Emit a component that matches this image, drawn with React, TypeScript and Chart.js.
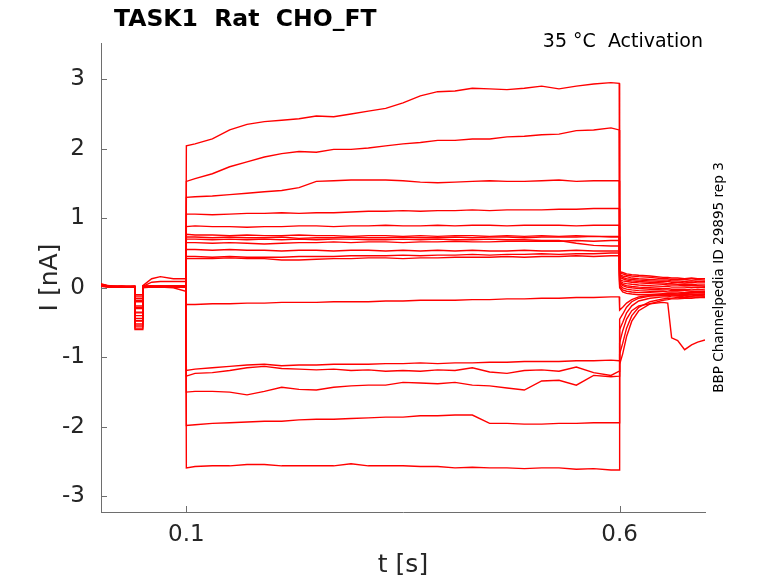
import React, { useEffect, useRef } from "react";
import { Chart, registerables } from "chart.js";

Chart.register(...registerables);

const titleText = "TASK1  Rat  CHO_FT";
const conditionText = "35 °C  Activation";
const sideText = "BBP Channelpedia ID 29895 rep 3";
const xAxisTitle = "t [s]";
const yAxisTitle = "I [nA]";

const xTickValues = [0.1, 0.6];
const xTickLabels = ["0.1", "0.6"];
const yTickValues = [-3, -2, -1, 0, 1, 2, 3];
const yTickLabels = ["-3", "-2", "-1", "0", "1", "2", "3"];

const preTimes = [0.0015, 0.012, 0.025, 0.0404, 0.0407, 0.0495, 0.0498, 0.06, 0.07, 0.085, 0.0995];
const stepTimes = [
  0.1, 0.11, 0.13, 0.15, 0.17, 0.19, 0.21, 0.23, 0.25, 0.27, 0.29, 0.31, 0.33, 0.35,
  0.37, 0.39, 0.41, 0.43, 0.45, 0.47, 0.49, 0.51, 0.53, 0.55, 0.57, 0.59, 0.5995,
];
const tailTimes = [0.6, 0.6035, 0.608, 0.614, 0.622, 0.635, 0.65, 0.6555, 0.66, 0.667, 0.675, 0.683, 0.69, 0.6985];

// one row per sweep
const preValues = [
  [0.04, 0.03, 0.02, 0.02, -0.58, -0.58, 0.03, 0.13, 0.16, 0.13, 0.13],
  [0.05, 0.02, 0.02, 0.01, -0.52, -0.52, 0.02, 0.08, 0.09, 0.09, 0.09],
  [0.03, 0.02, 0.01, 0.02, -0.47, -0.47, 0.02, 0.03, 0.02, 0.03, 0.03],
  [0.06, 0.02, 0.02, 0.01, -0.4, -0.4, 0.01, 0.02, 0.02, 0.02, 0.02],
  [0.03, 0.01, 0.02, 0.02, -0.35, -0.35, 0.02, 0.02, 0.03, 0.02, 0.03],
  [0.04, 0.02, 0.01, 0.01, -0.3, -0.3, 0.01, 0.02, 0.01, 0.02, 0.02],
  [0.02, 0.01, 0.02, 0.02, -0.26, -0.26, 0.02, 0.01, 0.02, 0.01, 0.02],
  [0.05, 0.02, 0.01, 0.02, -0.2, -0.2, 0.02, 0.02, 0.02, 0.03, 0.02],
  [0.03, 0.02, 0.02, 0.01, -0.15, -0.15, 0.01, 0.01, 0.02, 0.02, 0.01],
  [0.04, 0.01, 0.02, 0.02, -0.1, -0.1, 0.02, 0.02, 0.01, 0.02, 0.02],
  [0.03, 0.02, 0.01, 0.02, -0.55, -0.55, 0.02, 0.01, 0.02, 0.01, 0.01],
  [0.05, 0.02, 0.02, 0.01, -0.6, -0.6, 0.01, 0.02, 0.02, 0.02, 0.02],
  [0.04, 0.02, 0.01, 0.02, -0.48, -0.48, 0.02, 0.02, 0.01, 0.02, 0.01],
  [0.03, 0.01, 0.02, 0.02, -0.44, -0.44, 0.01, 0.02, 0.02, 0.01, 0.02],
  [0.03, 0.01, 0.02, 0.01, -0.36, -0.36, 0.0, 0.01, 0.01, 0.0, -0.05],
  [0.04, 0.02, 0.02, 0.02, -0.28, -0.28, 0.02, 0.02, 0.02, 0.02, 0.02],
  [0.02, 0.01, 0.01, 0.02, -0.18, -0.18, 0.01, 0.01, 0.02, 0.01, 0.01],
  [0.04, 0.02, 0.02, 0.01, -0.12, -0.12, 0.02, 0.02, 0.01, 0.02, 0.02],
];

const stepValues = [
  [2.04, 2.07, 2.14, 2.27, 2.35, 2.39, 2.41, 2.43, 2.47, 2.46, 2.5, 2.54, 2.58, 2.66, 2.76, 2.82, 2.83, 2.87, 2.86, 2.85, 2.87, 2.9, 2.86, 2.9, 2.93, 2.95, 2.94],
  [1.53, 1.57, 1.64, 1.74, 1.81, 1.88, 1.93, 1.96, 1.95, 1.99, 1.99, 2.01, 2.04, 2.07, 2.09, 2.12, 2.12, 2.14, 2.14, 2.17, 2.18, 2.2, 2.21, 2.26, 2.27, 2.3, 2.27],
  [1.3, 1.31, 1.32, 1.34, 1.36, 1.38, 1.4, 1.44, 1.53, 1.54, 1.55, 1.55, 1.55, 1.54, 1.52, 1.51, 1.52, 1.53, 1.54, 1.53, 1.53, 1.54, 1.55, 1.53, 1.54, 1.54, 1.54],
  [1.06, 1.06, 1.05, 1.06, 1.07, 1.07, 1.08, 1.07, 1.08, 1.08, 1.09, 1.1, 1.1, 1.11, 1.1, 1.11, 1.11, 1.12, 1.11, 1.12, 1.12, 1.12, 1.13, 1.13, 1.14, 1.14, 1.14],
  [0.88, 0.89, 0.88, 0.88, 0.87, 0.88, 0.88, 0.89, 0.89, 0.88, 0.89, 0.89, 0.9, 0.89, 0.89, 0.9, 0.89, 0.9, 0.9, 0.89, 0.9, 0.9, 0.9, 0.89, 0.9, 0.9, 0.9],
  [0.77, 0.76, 0.76, 0.75, 0.76, 0.75, 0.75, 0.76, 0.75, 0.75, 0.74, 0.75, 0.75, 0.74, 0.75, 0.74, 0.75, 0.75, 0.74, 0.75, 0.74, 0.75, 0.74, 0.75, 0.74, 0.74, 0.74],
  [0.73, 0.73, 0.72, 0.73, 0.72, 0.72, 0.73, 0.71, 0.72, 0.72, 0.73, 0.72, 0.72, 0.73, 0.72, 0.72, 0.73, 0.72, 0.73, 0.73, 0.72, 0.73, 0.73, 0.73, 0.74, 0.73, 0.73],
  [0.7, 0.7, 0.69, 0.7, 0.69, 0.7, 0.69, 0.7, 0.69, 0.7, 0.7, 0.69, 0.69, 0.7, 0.69, 0.7, 0.69, 0.69, 0.7, 0.69, 0.69, 0.68, 0.68, 0.64, 0.61, 0.6, 0.6],
  [0.65, 0.65, 0.64, 0.65, 0.64, 0.63, 0.64, 0.65, 0.65, 0.66, 0.65, 0.66, 0.66, 0.65, 0.66, 0.66, 0.67, 0.66, 0.66, 0.67, 0.67, 0.67, 0.67, 0.68, 0.67, 0.68, 0.68],
  [0.55, 0.55, 0.54, 0.55, 0.54, 0.54, 0.53, 0.54, 0.54, 0.53, 0.54, 0.54, 0.53, 0.54, 0.53, 0.54, 0.53, 0.54, 0.53, 0.53, 0.54, 0.53, 0.53, 0.54, 0.53, 0.53, 0.53],
  [0.45, 0.45, 0.44, 0.45, 0.44, 0.44, 0.44, 0.45, 0.45, 0.45, 0.46, 0.46, 0.46, 0.47, 0.46, 0.47, 0.47, 0.48, 0.47, 0.48, 0.48, 0.49, 0.48, 0.49, 0.49, 0.5, 0.5],
  [0.42, 0.42, 0.42, 0.43, 0.42, 0.42, 0.4, 0.4, 0.41, 0.42, 0.42, 0.43, 0.43, 0.42, 0.43, 0.43, 0.44, 0.44, 0.44, 0.45, 0.44, 0.45, 0.45, 0.46, 0.45, 0.46, 0.46],
  [-0.24, -0.24, -0.23, -0.23, -0.22, -0.22, -0.21, -0.21, -0.21, -0.2, -0.2, -0.2, -0.19, -0.19, -0.18, -0.18, -0.18, -0.17, -0.17, -0.16, -0.16, -0.15, -0.15, -0.14, -0.14, -0.13, -0.13],
  [-1.19, -1.17, -1.15, -1.13, -1.11, -1.1, -1.12, -1.11, -1.11, -1.1, -1.1, -1.1, -1.09, -1.09, -1.08, -1.09, -1.08, -1.08, -1.07, -1.07, -1.06, -1.06, -1.06, -1.05, -1.05, -1.04, -1.05],
  [-1.27, -1.23, -1.22, -1.19, -1.15, -1.13, -1.16, -1.17, -1.18, -1.17, -1.19, -1.18, -1.2, -1.19, -1.2, -1.18, -1.19, -1.15, -1.21, -1.23, -1.19, -1.18, -1.2, -1.14, -1.22, -1.26, -1.2],
  [-1.5, -1.49, -1.49, -1.5, -1.54, -1.49, -1.43, -1.46, -1.47, -1.43, -1.41, -1.4, -1.4, -1.36, -1.37, -1.38, -1.36, -1.4, -1.41, -1.44, -1.47, -1.34, -1.33, -1.4, -1.26, -1.28, -1.27],
  [-1.98, -1.97, -1.95, -1.94, -1.93, -1.92, -1.92, -1.9, -1.89, -1.89, -1.88, -1.87, -1.86, -1.86, -1.84, -1.84, -1.83, -1.83, -1.95, -1.95, -1.96, -1.96, -1.95, -1.95, -1.94, -1.94, -1.94],
  [-2.59, -2.57, -2.56, -2.56, -2.54, -2.54, -2.56, -2.56, -2.56, -2.56, -2.53, -2.56, -2.56, -2.56, -2.57, -2.57, -2.59, -2.58, -2.59, -2.59, -2.6, -2.59, -2.59, -2.61, -2.6, -2.62, -2.62],
];

const tailValues = [
  [0.23, 0.22, 0.2, 0.19, 0.18, 0.17, 0.15, 0.15, 0.14, 0.14, 0.13, 0.14, 0.13, 0.13],
  [0.21, 0.2, 0.18, 0.17, 0.16, 0.15, 0.13, 0.13, 0.12, 0.12, 0.12, 0.11, 0.12, 0.11],
  [0.19, 0.17, 0.16, 0.14, 0.13, 0.12, 0.11, 0.11, 0.1, 0.1, 0.09, 0.1, 0.09, 0.09],
  [0.17, 0.15, 0.13, 0.12, 0.11, 0.1, 0.09, 0.09, 0.08, 0.08, 0.07, 0.08, 0.07, 0.07],
  [0.15, 0.13, 0.11, 0.1, 0.09, 0.08, 0.07, 0.06, 0.06, 0.05, 0.05, 0.05, 0.04, 0.04],
  [0.12, 0.1, 0.09, 0.08, 0.07, 0.06, 0.05, 0.04, 0.04, 0.04, 0.03, 0.03, 0.03, 0.02],
  [0.1, 0.07, 0.06, 0.05, 0.04, 0.03, 0.02, 0.02, 0.01, 0.01, 0.01, 0.0, 0.01, 0.0],
  [0.08, 0.05, 0.03, 0.02, 0.01, 0.0, -0.01, -0.01, -0.02, -0.02, -0.02, -0.03, -0.02, -0.03],
  [0.06, 0.03, 0.01, 0.0, -0.01, -0.02, -0.03, -0.03, -0.04, -0.04, -0.04, -0.05, -0.05, -0.05],
  [0.04, 0.0, -0.02, -0.03, -0.04, -0.05, -0.05, -0.06, -0.06, -0.06, -0.07, -0.06, -0.07, -0.07],
  [0.02, -0.03, -0.05, -0.06, -0.07, -0.07, -0.08, -0.08, -0.08, -0.09, -0.08, -0.09, -0.09, -0.09],
  [0.0, -0.06, -0.08, -0.09, -0.1, -0.1, -0.1, -0.11, -0.1, -0.11, -0.11, -0.12, -0.1, -0.12],
  [-0.32, -0.28, -0.22, -0.17, -0.13, -0.11, -0.1, -0.1, -0.09, -0.09, -0.1, -0.09, -0.1, -0.09],
  [-0.45, -0.38, -0.28, -0.2, -0.15, -0.12, -0.11, -0.11, -0.1, -0.11, -0.1, -0.1, -0.11, -0.1],
  [-0.6, -0.5, -0.36, -0.26, -0.19, -0.15, -0.13, -0.13, -0.12, -0.12, -0.13, -0.12, -0.12, -0.12],
  [-0.79, -0.62, -0.45, -0.33, -0.26, -0.23, -0.21, -0.22, -0.72, -0.76, -0.89, -0.82, -0.78, -0.75],
  [-0.95, -0.8, -0.58, -0.4, -0.28, -0.2, -0.16, -0.15, -0.15, -0.14, -0.14, -0.13, -0.14, -0.13],
  [-1.1, -0.95, -0.7, -0.48, -0.33, -0.23, -0.18, -0.17, -0.16, -0.16, -0.15, -0.15, -0.14, -0.14],
];

const traceColor = "#ff0000";
const axisColor = "#6e6e6e";
const textColor = "#262626";
const fontFamily = '"DejaVu Sans", sans-serif';

function buildDatasets() {
  return preValues.map((pre, i) => {
    const points: { x: number; y: number }[] = [];
    pre.forEach((v, k) => points.push({ x: preTimes[k], y: v }));
    stepValues[i].forEach((v, k) => points.push({ x: stepTimes[k], y: v }));
    tailValues[i].forEach((v, k) => points.push({ x: tailTimes[k], y: v }));
    return {
      label: "sweep " + (i + 1),
      data: points,
      borderColor: traceColor,
      backgroundColor: traceColor,
      borderWidth: 1.4,
      pointRadius: 0,
      fill: false,
      tension: 0,
    };
  });
}

const overlayPlugin = {
  id: "overlay",
  afterDraw(chart: any) {
    const ctx = chart.ctx as CanvasRenderingContext2D;
    const area = chart.chartArea;
    const xs = chart.scales.x;
    const ys = chart.scales.y;
    ctx.save();
    // inward tick marks
    ctx.strokeStyle = axisColor;
    ctx.lineWidth = 1;
    ctx.beginPath();
    xTickValues.forEach((v) => {
      const px = Math.round(xs.getPixelForValue(v)) + 0.5;
      ctx.moveTo(px, area.bottom);
      ctx.lineTo(px, area.bottom - 6);
    });
    yTickValues.forEach((v) => {
      const py = Math.round(ys.getPixelForValue(v)) + 0.5;
      ctx.moveTo(area.left, py);
      ctx.lineTo(area.left + 6, py);
    });
    ctx.stroke();

    ctx.fillStyle = "#000000";
    ctx.textBaseline = "alphabetic";
    ctx.textAlign = "left";
    ctx.font = "bold 23.5px " + fontFamily;
    ctx.fillText(titleText, 114, 26);

    ctx.textAlign = "right";
    ctx.font = "19px " + fontFamily;
    ctx.fillText(conditionText, 703, 47);

    ctx.translate(723, 277.5);
    ctx.rotate(-Math.PI / 2);
    ctx.textAlign = "center";
    ctx.font = "13.6px " + fontFamily;
    ctx.fillText(sideText, 0, 0);
    ctx.restore();
  },
};

export default function App() {
  const canvasRef = useRef<HTMLCanvasElement | null>(null);

  useEffect(() => {
    const canvas = canvasRef.current;
    if (!canvas) return;
    const chart = new Chart(canvas, {
      type: "line",
      data: { datasets: buildDatasets() as any },
      options: {
        animation: false,
        responsive: false,
        devicePixelRatio: 1,
        layout: { padding: { left: 0, top: 43, right: 73, bottom: 0 } },
        plugins: {
          legend: { display: false },
          tooltip: { enabled: false },
          title: { display: false },
        },
        elements: { line: { borderCapStyle: "butt" } },
        scales: {
          x: {
            type: "linear",
            min: 0.0015,
            max: 0.6985,
            grid: { display: false, drawTicks: false },
            border: { display: true, color: axisColor, width: 1 },
            afterBuildTicks: (scale: any) => {
              scale.ticks = xTickValues.map((v) => ({ value: v }));
            },
            afterFit: (scale: any) => {
              scale.height = 71;
            },
            ticks: {
              color: textColor,
              font: { family: fontFamily, size: 23 },
              padding: 9,
              maxRotation: 0,
              autoSkip: false,
              callback: (_v: any, idx: number) => xTickLabels[idx],
            },
            title: {
              display: true,
              text: xAxisTitle,
              color: textColor,
              font: { family: fontFamily, size: 25, lineHeight: 1 },
              padding: { top: 0, bottom: 5.5 },
            },
          },
          y: {
            type: "linear",
            min: -3.224,
            max: 3.52,
            grid: { display: false, drawTicks: false },
            border: { display: true, color: axisColor, width: 1 },
            afterBuildTicks: (scale: any) => {
              scale.ticks = yTickValues.map((v) => ({ value: v }));
            },
            afterFit: (scale: any) => {
              scale.width = 101;
            },
            ticks: {
              color: textColor,
              font: { family: fontFamily, size: 23 },
              padding: 16,
              autoSkip: false,
              callback: (_v: any, idx: number) => yTickLabels[idx],
            },
            title: {
              display: true,
              text: yAxisTitle,
              color: textColor,
              font: { family: fontFamily, size: 25, lineHeight: 1 },
              padding: { top: 37.5, bottom: 0 },
            },
          },
        },
      },
      plugins: [overlayPlugin],
    });
    return () => chart.destroy();
  }, []);

  return (
    <div style={{ position: "fixed", left: 0, top: 0, width: 778, height: 583, background: "#ffffff" }}>
      <canvas ref={canvasRef} width={778} height={583} style={{ display: "block", width: 778, height: 583 }} />
    </div>
  );
}
